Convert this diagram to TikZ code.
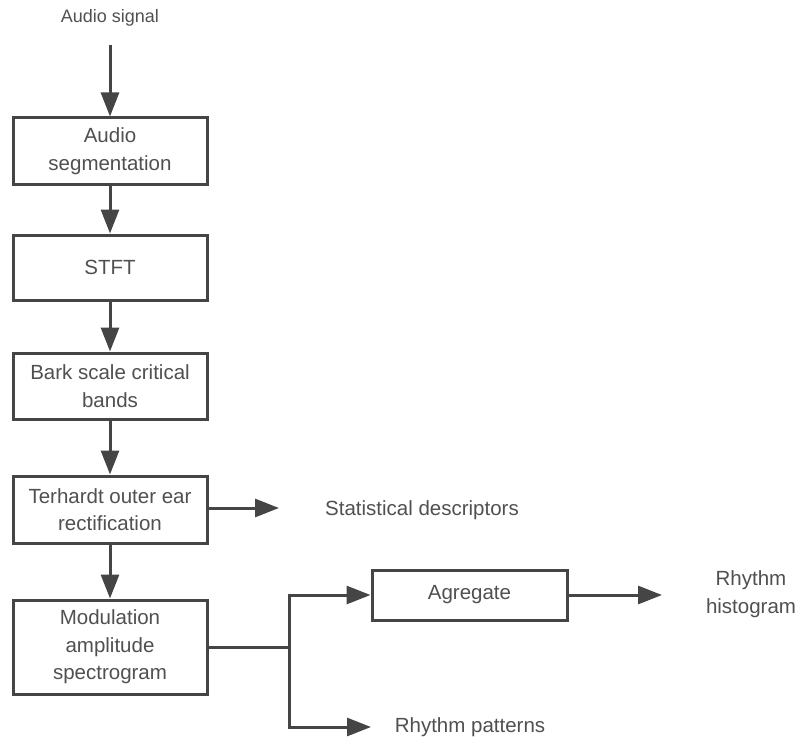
\documentclass[tikz,border=0pt]{standalone}
\usepackage{fontspec}
\setmainfont{Liberation Sans}
\usetikzlibrary{arrows.meta}
\definecolor{ln}{HTML}{454545}
\definecolor{tx}{HTML}{505050}
\begin{document}
\begin{tikzpicture}[x=1pt,y=-1pt,
  box/.style={draw=ln,line width=3pt,fill=white,minimum width=194pt,inner sep=0pt,align=center,text=tx,font=\fontsize{20.5}{27.5}\selectfont},
  lbl/.style={text=tx,align=center,font=\fontsize{20.5}{27.5}\selectfont},
  arr/.style={draw=ln,line width=3pt,-{Triangle[length=24pt,width=18pt]}},
  ln/.style={draw=ln,line width=3pt}]
\useasboundingbox (0,0) rectangle (795,741);
\node[text=tx,font=\fontsize{18}{22}\selectfont] (sig) at (110,18) {Audio signal};
\coordinate (sigend) at (110,45);
\node[box,minimum height=66pt] (seg) at (110,151) {Audio\\segmentation};
\node[box,minimum height=65pt] (stft) at (110,267.5) {STFT};
\node[box,minimum height=66pt] (bark) at (110,386) {Bark scale critical\\bands};
\node[box,minimum height=67pt] (ter) at (110,509.5) {Terhardt outer ear\\rectification};
\node[box,minimum height=94pt] (mod) at (110,647) {Modulation\\amplitude\\spectrogram};
\node[box,minimum width=195pt,minimum height=50pt] (agg) at (469.5,595) {Agregate};
\node[lbl] (stat) at (422,510) {Statistical descriptors};
\node[lbl] (rp) at (470,727) {Rhythm patterns};
\node[lbl] (rh) at (751,594) {Rhythm\\histogram};
\coordinate (statend) at (279,508);
\coordinate (rpend) at (371,727);
\coordinate (rhend) at (662,595);
\coordinate (split) at (289,647);
\draw[arr] (sigend) -- (seg.north);
\draw[arr] (seg) -- (stft);
\draw[arr] (stft) -- (bark);
\draw[arr] (bark) -- (ter);
\draw[arr] (ter) -- (mod);
\draw[arr] (ter.east |- statend) -- (statend);
\draw[ln] (mod.east) -- (split);
\draw[arr] (split) |- (agg.west);
\draw[arr] (split) |- (rpend);
\draw[arr] (agg.east) -- (rhend);
\end{tikzpicture}
\end{document}
